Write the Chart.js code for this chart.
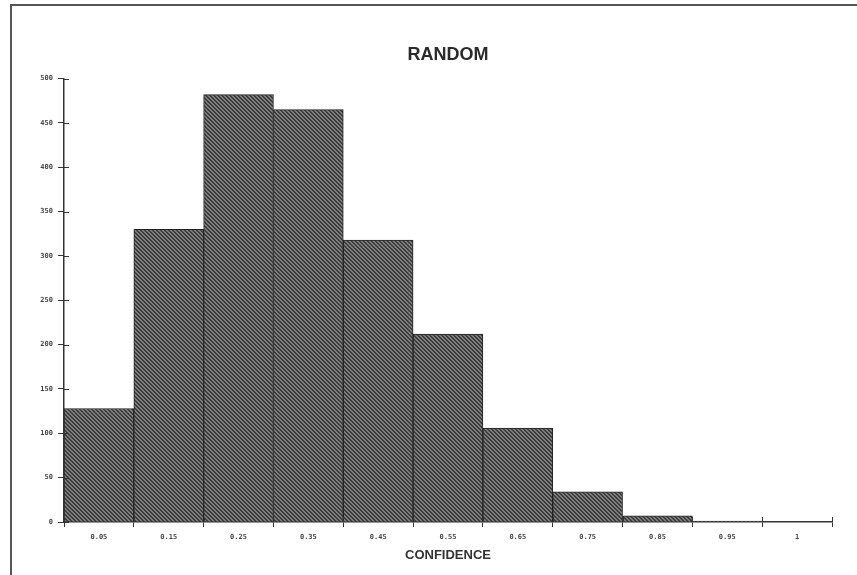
<!DOCTYPE html>
<html>
<head>
<meta charset="utf-8">
<script src="https://cdn.jsdelivr.net/npm/chart.js@4/dist/chart.umd.min.js"></script>
<style>
  html, body { margin: 0; padding: 0; background: #fff; }
  #wrap { position: relative; width: 857px; height: 575px; overflow: hidden; }
  #c { position: absolute; left: 0; top: 0; }
  .frameTop { position: absolute; left: 10px; top: 4px; width: 847px; height: 2px; background: #555; }
  .frameLeft { position: absolute; left: 10px; top: 4px; width: 2px; height: 571px; background: #555; }
</style>
</head>
<body>
<div id="wrap">
  <canvas id="c" width="857" height="575"></canvas>
  <div class="frameTop"></div>
  <div class="frameLeft"></div>
</div>
<script>
const categories = ['0.05','0.15','0.25','0.35','0.45','0.55','0.65','0.75','0.85','0.95','1'];
const counts = [128, 330, 482, 465, 318, 212, 106, 34, 7, 1, 0];
const yTicks = [0, 50, 100, 150, 200, 250, 300, 350, 400, 450, 500];
const chartTitle = 'RANDOM';
const xTitle = 'CONFIDENCE';

function hatch() {
  const t = document.createElement('canvas');
  t.width = 4; t.height = 4;
  const g = t.getContext('2d');
  g.fillStyle = '#3e3e3e';
  g.fillRect(0, 0, 4, 4);
  g.fillStyle = '#7c7c7c';
  for (let i = 0; i < 4; i++) { g.fillRect(i, i, 1, 1); g.fillRect((i + 1) % 4, i, 1, 1); }
  return document.getElementById('c').getContext('2d').createPattern(t, 'repeat');
}

const innerTicks = {
  id: 'innerTicks',
  afterDraw(chart) {
    const ctx = chart.ctx, xs = chart.scales.x, ys = chart.scales.y;
    ctx.save();
    ctx.strokeStyle = '#333';
    ctx.lineWidth = 1;
    ctx.beginPath();
    ys.ticks.forEach(t => {
      const py = Math.round(ys.getPixelForValue(t.value)) + 0.5;
      ctx.moveTo(xs.left, py); ctx.lineTo(xs.left + 5, py);
    });
    const n = categories.length;
    const step = (xs.right - xs.left) / n;
    for (let i = 0; i <= n; i++) {
      const px = Math.round(xs.getPixelForValue(0) - step / 2 + i * step) + 0.5;
      ctx.moveTo(px, ys.bottom); ctx.lineTo(px, ys.bottom - 5);
    }
    ctx.stroke();
    ctx.restore();
  }
};

const tickFont = { family: 'DejaVu Sans Mono', size: 7, weight: 'bold' };

new Chart(document.getElementById('c'), {
  type: 'bar',
  data: {
    labels: categories,
    datasets: [{
      data: counts,
      backgroundColor: hatch(),
      borderColor: '#222',
      borderWidth: 1,
      barPercentage: 1,
      categoryPercentage: 1
    }]
  },
  plugins: [innerTicks],
  options: {
    responsive: false,
    animation: false,
    layout: { padding: { left: 0, right: 25, top: 0, bottom: 0 } },
    plugins: {
      legend: { display: false },
      tooltip: { enabled: false },
      title: {
        display: true,
        text: chartTitle,
        fullSize: false,
        color: '#2a2a2a',
        font: { family: 'Liberation Sans', size: 18, weight: 'bold' },
        padding: { top: 44, bottom: 13 }
      }
    },
    scales: {
      x: {
        grid: { display: true, offset: true, drawOnChartArea: false, drawTicks: true, tickLength: 5, color: '#333', lineWidth: 1 },
        border: { display: true, color: '#333', width: 1.5 },
        ticks: { font: tickFont, color: '#444', padding: 6, maxRotation: 0, autoSkip: false },
        title: {
          display: true,
          text: xTitle,
          color: '#333',
          font: { family: 'Liberation Sans', size: 13, weight: 'bold' },
          padding: { top: 4, bottom: 12 }
        },
        afterFit: s => { s.height = 53; }
      },
      y: {
        min: 0,
        max: 500,
        afterBuildTicks: s => { s.ticks = yTicks.map(v => ({ value: v })); },
        grid: { display: true, drawOnChartArea: false, drawTicks: true, tickLength: 6, color: '#333', lineWidth: 1 },
        border: { display: true, color: '#333', width: 1.5 },
        ticks: { font: tickFont, color: '#444', padding: 5 },
        afterFit: s => { s.width = 64; }
      }
    }
  }
});
</script>
</body>
</html>
